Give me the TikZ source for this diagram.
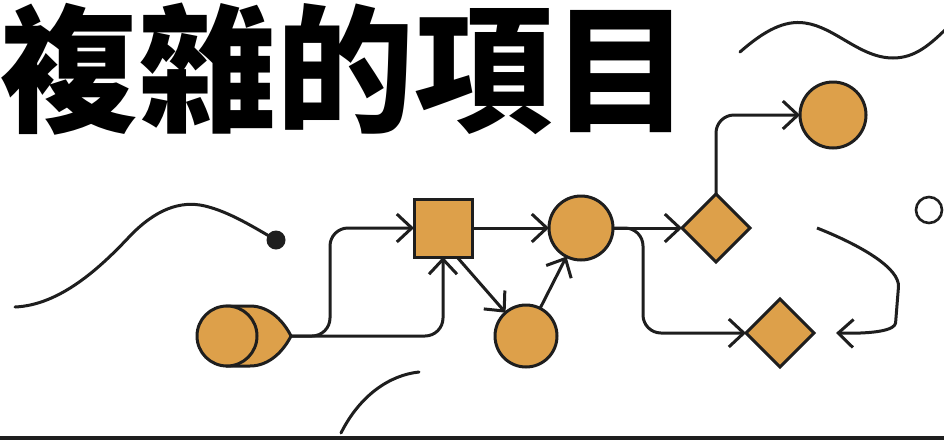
\documentclass[tikz,border=0pt]{standalone}
\usepackage{fontspec}
\newfontfamily\cjk{Noto Sans CJK TC Black}
\usetikzlibrary{arrows.meta,shapes.geometric}
\definecolor{ochre}{RGB}{221,160,74}
\definecolor{ink}{RGB}{30,30,30}
\tikzset{
  shp/.style={draw=ink, fill=ochre, line width=3pt, inner sep=0pt, outer sep=0pt},
  circ/.style={shp, circle, minimum size=#1},
  sqbox/.style={shp, rectangle, minimum size=58pt},
  dia/.style={shp, diamond, aspect=1, minimum size=68pt},
  conn/.style={draw=ink, line width=3pt, rounded corners=18pt, line join=round,
    -{Straight Barb[length=15pt,width=28pt,line width=3pt]}},
  deco/.style={draw=ink, line width=3pt, line cap=round},
}
\begin{document}
\begin{tikzpicture}[x=1pt,y=-1pt]
\clip (0,0) rectangle (944,440);
\fill[white] (0,0) rectangle (944,440);
% title
\node[anchor=base west, inner sep=0pt, font=\cjk\fontsize{138}{138}\selectfont] (title) at (0,121) {複雜的項目};
% bottom bar
\fill[ink] (0,436) rectangle (944,440);
% decorative curves
\draw[deco] (15,307) .. controls (60,305) and (100,268) .. (130,236) .. controls (155,210) and (180,200) .. (205,206) .. controls (230,212) and (255,228) .. (276,240);
\node[circle, fill=ink, minimum size=19pt, inner sep=0pt] (dot) at (276,240) {};
\draw[deco] (740,52) .. controls (765,30) and (785,20) .. (805,23) .. controls (835,27) and (860,58) .. (893,58) .. controls (915,58) and (930,45) .. (950,25);
\draw[deco] (341,433) .. controls (360,395) and (390,375) .. (419,372);
\node[circle, draw=ink, fill=white, line width=2.6pt, minimum size=26pt, inner sep=0pt] (ring) at (929,210) {};
% start shape
\filldraw[shp] (227,306) -- (250,306) .. controls (270,306) and (284,322) .. (291,336) .. controls (284,350) and (270,366) .. (250,366) -- (227,366) -- cycle;
\node[circ=60pt] (s) at (227,336) {};
\coordinate (stip) at (290,336);
% nodes
\node[sqbox] (sq) at (443,228) {};
\node[circ=64pt] (c2) at (581,228) {};
\node[circ=62pt] (c3) at (526,336) {};
\node[dia] (d1) at (716,228) {};
\node[dia] (d2) at (780,333) {};
\node[circ=66pt] (c4) at (833,115) {};
\coordinate (loopstart) at (817,228);
\coordinate (loopend) at (836,333);
% connectors
\draw[conn] (stip) -- (330,336) |- (sq.west);
\draw[conn] (stip) -| (sq.south);
\draw[conn] (sq.east) -- (c2.west);
\draw[conn] ([xshift=14pt]sq.south) -- (c3);
\draw[conn] (c3) -- (c2);
\draw[conn] (c2.east) -- (643,228) |- (d2.west);
\draw[conn] (c2.east) -- (d1.west);
\draw[conn] (d1.north) |- (c4.west);
\draw[conn] (loopstart) .. controls (860,245) and (900,268) .. (897,305) .. controls (895,330) and (875,334) .. (loopend);
\end{tikzpicture}
\end{document}
